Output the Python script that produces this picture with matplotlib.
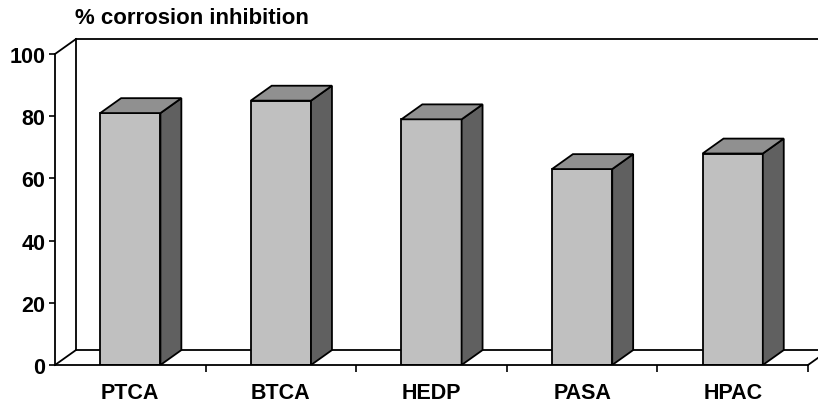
import matplotlib.pyplot as plt
from matplotlib.patches import Polygon

plt.rcParams['font.family'] = ['Liberation Sans', 'DejaVu Sans']

categories = ["PTCA", "BTCA", "HEDP", "PASA", "HPAC"]
inhibition = [81, 85, 79, 63, 68]
yticks = [0, 20, 40, 60, 80, 100]

# depth offset of the pseudo-3D look (x in category units, y in value units)
dx, dy = 0.139, 4.8
bar_w = 0.4
front_c, top_c, side_c = "#C0C0C0", "#909090", "#606060"

fig = plt.figure(figsize=(8.18, 4.06), dpi=100)
ax = fig.add_axes([55 / 818, 40 / 406, 753 / 818, 311 / 406])
ax.set_xlim(-0.5, len(categories) - 0.5)
ax.set_ylim(0, 100)

x0, x1 = -0.5, len(categories) - 0.5
lw = 1.3
wall = dict(color="black", lw=lw, clip_on=False, zorder=1)
# back wall and floor
ax.plot([x0 + dx, x0 + dx], [dy, 100 + dy], **wall)
ax.plot([x0 + dx, x1 + dx], [100 + dy, 100 + dy], **wall)
ax.plot([x0, x0 + dx], [100, 100 + dy], **wall)
ax.plot([x0 + dx, x1 + dx], [dy, dy], **wall)
ax.plot([x0, x0 + dx], [0, dy], **wall)
ax.plot([x1, x1 + dx], [0, dy], **wall)

for i, v in enumerate(inhibition):
    l, r = i - bar_w / 2, i + bar_w / 2
    ax.bar(i, v, width=bar_w, color=front_c, edgecolor="black", lw=lw, zorder=3)
    side = Polygon([(r, 0), (r + dx, dy), (r + dx, v + dy), (r, v)],
                   closed=True, facecolor=side_c, edgecolor="black", lw=lw,
                   zorder=3, joinstyle="miter")
    top = Polygon([(l, v), (l + dx, v + dy), (r + dx, v + dy), (r, v)],
                  closed=True, facecolor=top_c, edgecolor="black", lw=lw,
                  zorder=3, joinstyle="miter")
    ax.add_patch(side)
    ax.add_patch(top)

for s in ["top", "right"]:
    ax.spines[s].set_visible(False)
for s in ["left", "bottom"]:
    ax.spines[s].set_linewidth(lw)
    ax.spines[s].set_zorder(4)

ax.set_yticks(yticks)
ax.tick_params(axis="y", length=4, width=1.2, pad=3, labelsize=15.5)
ax.set_xticks(range(len(categories)))
ax.set_xticklabels(categories)
ax.set_xticks([i + 0.5 for i in range(len(categories))], minor=True)
ax.tick_params(axis="x", which="major", length=0, pad=12.5, labelsize=15.5)
ax.tick_params(axis="x", which="minor", length=5, width=1.2, direction="out")
for lab in ax.get_xticklabels() + ax.get_yticklabels():
    lab.set_fontweight("bold")

fig.text(75 / 818, 1 - 18 / 406, "% corrosion inhibition", fontsize=16,
         fontweight="bold", va="center", ha="left")

fig.savefig("out.png", dpi=100)
